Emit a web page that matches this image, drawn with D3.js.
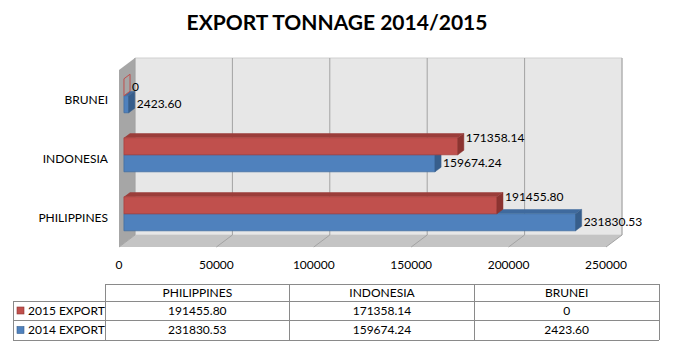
<!DOCTYPE html>
<html>
<head>
<meta charset="utf-8">
<script src="https://cdn.jsdelivr.net/npm/d3@7"></script>
<style>
  body { margin: 0; background: #fff; }
  text { font-family: Lato, "Open Sans", sans-serif; fill: #000; }
</style>
</head>
<body>
<svg></svg>
<script>
// chart values
var categories = ["PHILIPPINES", "INDONESIA", "BRUNEI"];
var seriesNames = ["2015 EXPORT", "2014 EXPORT"];
var export2015 = [191455.80, 171358.14, 0];
var export2014 = [231830.53, 159674.24, 2423.60];
var tickValues = [0, 50000, 100000, 150000, 200000, 250000];

var width = 674,
    height = 354;

var svg = d3.select("svg")
    .attr("width", width)
    .attr("height", height);

// 3d box: front plane origin, depth vector
var ox = 119, oy = 70,
    plotW = 487, plotH = 177,
    depthX = 16, depthY = -12;

var colors = {
    "2015 EXPORT": { front: "#c0504d", top: "#9b3d3a", side: "#8c3431", line: "#a8403d" },
    "2014 EXPORT": { front: "#4f81bd", top: "#3f6a9e", side: "#375e8c", line: "#42709f" }
};

var x = d3.scaleLinear().domain([0, 250000]).range([0, plotW]);
var y = d3.scaleBand().domain(categories.slice().reverse()).range([0, plotH]);
var yInner = d3.scaleBand().domain(seriesNames).range([0, y.bandwidth()])
    .paddingInner(0).paddingOuter(0.735);

function pt(px, py, z) {
    return [ox + px + depthX * z, oy + py + depthY * z];
}
function poly(pts) {
    return pts.map(p => p.join(",")).join(" ");
}

svg.append("text")
    .attr("x", 337)
    .attr("y", 30)
    .attr("text-anchor", "middle")
    .style("font-size", "21px")
    .style("font-weight", "bold")
    .text("EXPORT TONNAGE 2014/2015");

var box = svg.append("g");

// back wall
box.append("polygon")
    .attr("points", poly([pt(0, 0, 1), pt(plotW, 0, 1), pt(plotW, plotH, 1), pt(0, plotH, 1)]))
    .attr("fill", "#e7e7e7")
    .attr("stroke", "#d0d0d0");

// left wall
box.append("polygon")
    .attr("points", poly([pt(0, 0, 0), pt(0, 0, 1), pt(0, plotH, 1), pt(0, plotH, 0)]))
    .attr("fill", "#a6a6a6");

// floor
box.append("polygon")
    .attr("points", poly([pt(0, plotH, 0), pt(0, plotH, 1), pt(plotW, plotH, 1), pt(plotW, plotH, 0)]))
    .attr("fill", "#c4c4c4");

// gridlines
box.selectAll(".grid")
    .data(tickValues)
    .enter().append("polyline")
    .attr("points", d => poly([pt(x(d), 0, 1), pt(x(d), plotH, 1), pt(x(d), plotH, 0)]))
    .attr("fill", "none")
    .attr("stroke", "#a3a3a3")
    .attr("stroke-width", 1);

// bars
var z0 = 0.31, z1 = 0.69;
var rows = [];
categories.forEach((c, i) => {
    rows.push({ cat: c, series: "2014 EXPORT", value: export2014[i] });
    rows.push({ cat: c, series: "2015 EXPORT", value: export2015[i] });
});

var bars = svg.append("g")
    .selectAll("g")
    .data(rows)
    .enter().append("g");

bars.each(function (d) {
    var g = d3.select(this),
        col = colors[d.series],
        y0 = y(d.cat) + yInner(d.series),
        h = yInner.bandwidth(),
        w = x(d.value);
    if (w > 0) {
        g.append("polygon")
            .attr("points", poly([pt(0, y0, z0), pt(0, y0, z1), pt(w, y0, z1), pt(w, y0, z0)]))
            .attr("fill", col.top);
        g.append("polygon")
            .attr("points", poly([pt(0, y0, z0), pt(w, y0, z0), pt(w, y0 + h, z0), pt(0, y0 + h, z0)]))
            .attr("fill", col.front)
            .attr("stroke", col.line)
            .attr("stroke-width", 0.8);
    }
    g.append("polygon")
        .attr("points", poly([pt(w, y0, z0), pt(w, y0, z1), pt(w, y0 + h, z1), pt(w, y0 + h, z0)]))
        .attr("fill", w > 0 ? col.side : "none")
        .attr("stroke", w > 0 ? col.side : col.front)
        .attr("stroke-width", w > 0 ? 0.5 : 1);
});

// value labels
bars.append("text")
    .attr("x", d => pt(x(d.value), 0, z1)[0] + 2)
    .attr("y", d => {
        var c = y(d.cat) + yInner(d.series) + yInner.bandwidth() / 2;
        var nudge = (d.series === "2015 EXPORT" && d.value > 0) ? -8 : 0;
        return pt(0, c, z0)[1] + nudge;
    })
    .attr("dy", "0.35em")
    .style("font-size", "12px")
    .text(d => d.value === 0 ? "0" : d3.format(".2f")(d.value));

// category labels
svg.append("g")
    .selectAll("text")
    .data(categories)
    .enter().append("text")
    .attr("x", ox - 11)
    .attr("y", d => oy + y(d) + y.bandwidth() / 2)
    .attr("dy", "0.35em")
    .attr("text-anchor", "end")
    .style("font-size", "12px")
    .text(d => d);

// value axis labels
svg.append("g")
    .selectAll("text")
    .data(tickValues)
    .enter().append("text")
    .attr("x", d => ox + x(d))
    .attr("y", 265)
    .attr("dy", "0.35em")
    .attr("text-anchor", "middle")
    .style("font-size", "12px")
    .text(d => d);

// data table
var tableLeft = 13, colStart = 105, tableRight = 659;
var rowY = [284, 301, 320, 340];
var col = d3.scaleBand().domain(categories).range([colStart, tableRight]);
var tableValues = [export2015, export2014];
var lineColor = "#8a8a8a";

var table = svg.append("g")
    .attr("stroke", lineColor)
    .attr("stroke-width", 1)
    .attr("shape-rendering", "crispEdges");

table.append("line").attr("x1", colStart).attr("x2", tableRight).attr("y1", rowY[0]).attr("y2", rowY[0]);
[1, 2, 3].forEach(r => {
    table.append("line").attr("x1", tableLeft).attr("x2", tableRight).attr("y1", rowY[r]).attr("y2", rowY[r]);
});
table.append("line").attr("x1", tableLeft).attr("x2", tableLeft).attr("y1", rowY[1]).attr("y2", rowY[3]);
categories.forEach(c => {
    table.append("line").attr("x1", col(c)).attr("x2", col(c)).attr("y1", rowY[0]).attr("y2", rowY[3]);
});
table.append("line").attr("x1", tableRight).attr("x2", tableRight).attr("y1", rowY[0]).attr("y2", rowY[3]);

svg.append("g")
    .selectAll("text")
    .data(categories)
    .enter().append("text")
    .attr("x", d => col(d) + col.bandwidth() / 2)
    .attr("y", (rowY[0] + rowY[1]) / 2)
    .attr("dy", "0.35em")
    .attr("text-anchor", "middle")
    .style("font-size", "12px")
    .text(d => d);

seriesNames.forEach((s, r) => {
    var cy = (rowY[r + 1] + rowY[r + 2]) / 2;
    svg.append("rect")
        .attr("x", 17).attr("y", cy - 3.5)
        .attr("width", 7).attr("height", 7)
        .attr("fill", colors[s].front)
        .attr("stroke", colors[s].side)
        .attr("stroke-width", 0.6);
    svg.append("text")
        .attr("x", 28).attr("y", cy)
        .attr("dy", "0.35em")
        .style("font-size", "12px")
        .text(s);
    svg.append("g")
        .selectAll("text")
        .data(categories)
        .enter().append("text")
        .attr("x", d => col(d) + col.bandwidth() / 2)
        .attr("y", cy)
        .attr("dy", "0.35em")
        .attr("text-anchor", "middle")
        .style("font-size", "12px")
        .text((d, i) => tableValues[r][i] === 0 ? "0" : d3.format(".2f")(tableValues[r][i]));
});
</script>
</body>
</html>
